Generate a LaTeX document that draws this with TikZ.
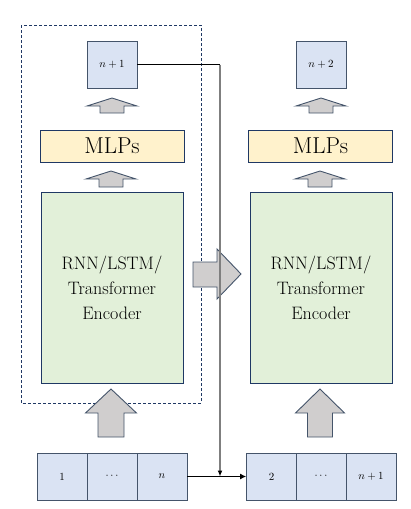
\documentclass[tikz,border=0pt]{standalone}
\usetikzlibrary{arrows.meta}
\definecolor{CellBlue}{HTML}{DAE3F3}
\definecolor{CellEdge}{HTML}{44546A}
\definecolor{MlpYellow}{HTML}{FFF2CC}
\definecolor{EncGreen}{HTML}{E2F0D9}
\definecolor{Navy}{HTML}{1F3864}
\definecolor{ArrGray}{HTML}{D0CECE}
\definecolor{LineGray}{HTML}{7F7F7F}
\tikzset{
  cell/.style={draw=CellEdge, fill=CellBlue, line width=0.9pt, minimum width=50pt, minimum height=47pt, inner sep=0pt, font=\fontsize{11}{13}\selectfont},
  mlp/.style={draw=Navy, fill=MlpYellow, line width=0.9pt, minimum width=144pt, minimum height=32pt, inner sep=0pt, font=\fontsize{23}{27}\selectfont},
  enc/.style={draw=Navy, fill=EncGreen, line width=0.9pt, minimum width=142pt, minimum height=191pt, inner sep=0pt, align=center, font=\fontsize{18}{25}\selectfont},
  blk/.style={draw=CellEdge, fill=ArrGray, line width=0.9pt, line join=miter}
}
% block arrow pointing up: centre x, top, shoulder, bottom, half head, half shaft
\newcommand{\blockup}[6]{%
  \draw[blk] ({#1-#5},#3) -- (#1,#2) -- ({#1+#5},#3) -- ({#1+#6},#3)
    -- ({#1+#6},#4) -- ({#1-#6},#4) -- ({#1-#6},#3) -- cycle;}
\begin{document}
\begin{tikzpicture}[x=1pt, y=-1pt]
\useasboundingbox (0,0) rectangle (411,509);
% left step
\draw[Navy, line width=0.9pt, dash pattern=on 3pt off 2pt] (21,25) rectangle (201,403);
\node[cell] (outA) at (112,64.5) {$n+1$};
\node[mlp] (mlpA) at (112,146) {MLPs};
\node[enc] (encA) at (112,287.5) {RNN/LSTM/\\Transformer\\Encoder};
\blockup{112}{98}{106}{113}{25}{12}
\blockup{111}{171}{179}{187}{25}{12}
\blockup{111}{389}{413}{437}{25.5}{13}
% right step
\node[cell] (outB) at (321,64.5) {$n+2$};
\node[mlp] (mlpB) at (320.5,146) {MLPs};
\node[enc] (encB) at (321,287.5) {RNN/LSTM/\\Transformer\\Encoder};
\blockup{321}{98}{106}{113}{25}{12}
\blockup{320}{171}{179}{187}{25}{12}
\blockup{320}{389}{413}{437}{24.5}{12.5}
% shift arrow
\draw[blk] (193,262) -- (217,262) -- (217,249) -- (241,274) -- (217,299)
  -- (217,287) -- (193,287) -- cycle;
% input sequences
\node[cell] (inA1) at (62,476.5) {$1$};
\node[cell] (inA2) at (112,476.5) {$\cdots$};
\node[cell] (inA3) at (162,476.5) {$n$};
\node[cell] (inB1) at (271.5,476.5) {$2$};
\node[cell] (inB2) at (321,476.5) {$\cdots$};
\node[cell] (inB3) at (371,476.5) {$n+1$};
\coordinate (turn) at (220,64.5);
\coordinate (drop) at (220,476.5);
\draw[line width=0.8pt] (outA.east) -- (turn);
\draw[LineGray, line width=1.2pt, -{Latex[length=6pt,width=5pt,black]}] (turn) -- (drop);
\draw[line width=0.8pt, -{Latex[length=6pt,width=6pt]}] (inA3.east) -- (inB1.west);
\end{tikzpicture}
\end{document}
